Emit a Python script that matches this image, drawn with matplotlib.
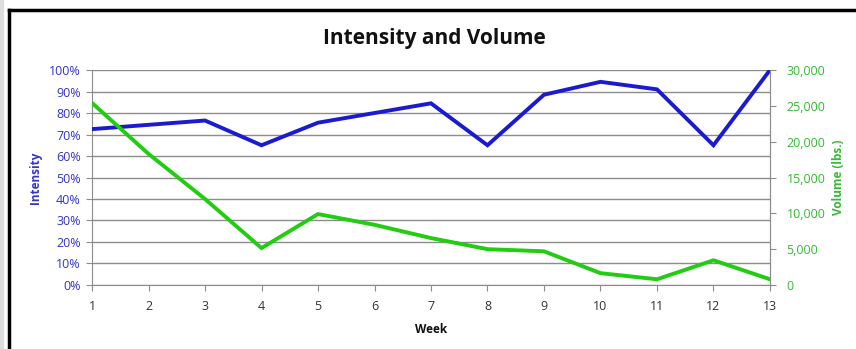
import matplotlib.pyplot as plt
from matplotlib.lines import Line2D
from matplotlib.ticker import FuncFormatter
import numpy as np

# data
weeks = list(range(1, 14))
intensity = [72.5, 74.5, 76.5, 65, 75.5, 80, 84.5, 65, 88.5, 94.5, 91, 65, 100]
volume = [25400, 18300, 12000, 5150, 9900, 8400, 6550, 5000, 4700, 1650, 800, 3450, 800]

blue = '#1a1ad0'
green = '#22cc11'
tick_blue = '#3333cc'
tick_green = '#33bb33'

plt.rcParams['font.family'] = ['Open Sans', 'DejaVu Sans']

fig = plt.figure(figsize=(8.56, 3.49), dpi=100)
ax = fig.add_axes([0.1075, 0.1834, 0.792, 0.616])
ax2 = ax.twinx()

ax.plot(weeks, intensity, color=blue, lw=2.8, zorder=3, solid_joinstyle='miter')
ax2.plot(weeks, volume, color=green, lw=2.8, zorder=3, solid_joinstyle='miter')

ax.set_xlim(1, 13)
ax.set_ylim(0, 100)
ax2.set_ylim(0, 30000)
ax.set_xticks(weeks)
ax.set_yticks(np.arange(0, 101, 10))
ax2.set_yticks(np.arange(0, 30001, 5000))
ax.yaxis.set_major_formatter(FuncFormatter(lambda v, p: f'{v:.0f}%'))
ax2.yaxis.set_major_formatter(FuncFormatter(lambda v, p: f'{v:,.0f}'))

ax.grid(axis='y', color='#8c8c8c', lw=1)
ax.set_axisbelow(True)

for a in (ax, ax2):
    a.spines['top'].set_visible(False)
    for s in ('left', 'right', 'bottom'):
        a.spines[s].set_color('#8c8c8c')
ax2.spines['left'].set_visible(False)
ax2.spines['bottom'].set_visible(False)

ax.tick_params(axis='x', colors='#8c8c8c', labelcolor='#333333', labelsize=9, length=4, pad=7)
ax.tick_params(axis='y', colors='#8c8c8c', labelcolor=tick_blue, labelsize=9, length=4, pad=4)
ax2.tick_params(axis='y', colors='#8c8c8c', labelcolor=tick_green, labelsize=9, length=4, pad=8)

ax.set_xlabel('Week', fontsize=8.5, fontweight='bold', color='#111111', labelpad=7)
ax.set_ylabel('Intensity', fontsize=8.5, fontweight='bold', color=tick_blue, labelpad=5)
ax2.set_ylabel('Volume (lbs.)', fontsize=8.5, fontweight='bold', color=tick_green, labelpad=5)

fig.text(0.508, 0.89, 'Intensity and Volume', ha='center', va='center',
         fontsize=15, fontweight='bold', color='#111111')

# outer frame of the screenshot
fig.add_artist(Line2D([0.0, 0.0], [0, 1], transform=fig.transFigure, color='#dddddd', lw=6))
fig.add_artist(Line2D([0.0105, 1.0], [0.972, 0.972], transform=fig.transFigure, color='black', lw=2.5))
fig.add_artist(Line2D([0.0105, 0.0105], [0.0, 0.972], transform=fig.transFigure, color='black', lw=2.5))

fig.savefig('out.png', dpi=100)
